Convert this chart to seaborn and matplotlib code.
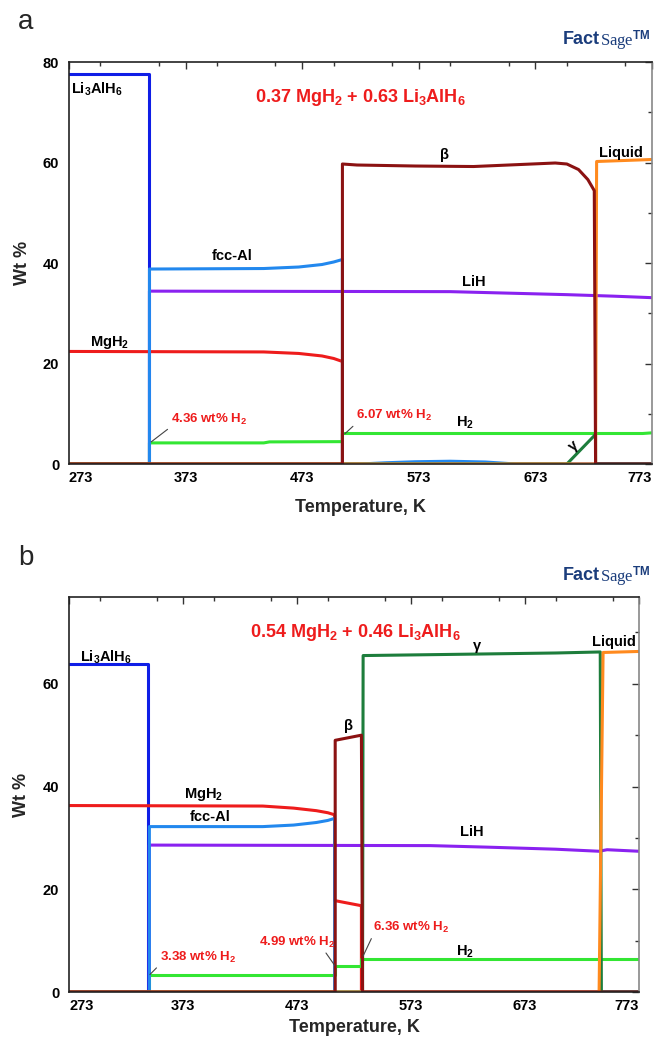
import matplotlib
matplotlib.use("Agg")
import numpy as np
import pandas as pd
import seaborn as sns
import matplotlib.pyplot as plt
from matplotlib import font_manager
from matplotlib.ticker import MultipleLocator

# ---- panel a : 0.37 MgH2 + 0.63 Li3AlH6 ----
a_li3alh6_T = [273, 342, 342, 773]
a_li3alh6 = [77.7, 77.7, 0, 0]
a_lih_T = [273, 342, 342, 600, 650, 700, 740, 773]
a_lih = [0, 0, 34.4, 34.3, 34.0, 33.7, 33.4, 33.1]
a_mgh2_T = [273, 440, 470, 490, 500, 507.5, 507.5, 773]
a_mgh2 = [22.4, 22.3, 22.0, 21.5, 21.0, 20.4, 0, 0]
a_h2_T = [273, 342, 342, 440, 445, 507.5, 507.5, 765, 773]
a_h2 = [0, 0, 4.2, 4.2, 4.4, 4.45, 6.07, 6.07, 6.2]
a_fcc_T = [273, 342, 342, 440, 470, 490, 500, 507.5, 507.5, 523, 545, 570, 600, 630, 656, 773]
a_fcc = [0, 0, 38.8, 38.9, 39.2, 39.7, 40.2, 40.7, 0, 0, 0.25, 0.45, 0.55, 0.4, 0, 0]
a_gamma_T = [273, 700, 724.6, 724.6, 773]
a_gamma = [0, 0, 5.9, 0, 0]
a_liquid_T = [273, 724.6, 725.5, 773]
a_liquid = [0, 0, 60.2, 60.6]
a_beta_T = [273, 507.5, 507.5, 520, 570, 620, 660, 690, 700, 710, 718, 723.5, 724.6, 773]
a_beta = [0, 0, 59.7, 59.5, 59.3, 59.2, 59.6, 59.9, 59.7, 58.6, 56.6, 54.4, 0, 0]

# ---- panel b : 0.54 MgH2 + 0.46 Li3AlH6 ----
b_li3alh6_T = [273, 342, 342, 773]
b_li3alh6 = [63.8, 63.8, 0, 0]
b_lih_T = [273, 343.5, 343.5, 590, 640, 700, 738, 745, 773]
b_lih = [0, 0, 28.6, 28.5, 28.2, 27.8, 27.4, 27.7, 27.4]
b_mgh2_T = [273, 443, 470, 490, 500, 506, 506, 529.5, 529.5, 773]
b_mgh2 = [36.3, 36.2, 35.8, 35.3, 34.9, 34.5, 17.8, 16.8, 0, 0]
b_h2_T = [273, 343.5, 343.5, 506, 506, 529.5, 529.5, 773]
b_h2 = [0, 0, 3.38, 3.38, 4.99, 4.99, 6.36, 6.36]
b_fcc_T = [273, 343.5, 343.5, 443, 470, 490, 500, 506, 506, 773]
b_fcc = [0, 0, 32.2, 32.2, 32.5, 33.0, 33.4, 33.8, 0, 0]
b_gamma_T = [273, 530.5, 531, 600, 700, 739, 740, 773]
b_gamma = [0, 0, 65.5, 65.7, 66.0, 66.2, 0, 0]
b_liquid_T = [273, 738, 741.5, 773]
b_liquid = [0, 0, 66.1, 66.3]
b_beta_T = [273, 506.5, 506.5, 529.5, 530.5, 773]
b_beta = [0, 0, 49.0, 50.0, 0, 0]

phase_order = ["Li3AlH6", "LiH", "MgH2", "H2", "fcc-Al", "gamma", "Liquid", "beta"]
phase_colors = {
    "Li3AlH6": "#0f1ee6",
    "LiH": "#8a22f0",
    "MgH2": "#ee1c1c",
    "H2": "#33e633",
    "fcc-Al": "#2288ee",
    "gamma": "#1d7d3c",
    "Liquid": "#ff8a1e",
    "beta": "#8b1212",
}

panel_a = {
    "Li3AlH6": (a_li3alh6_T, a_li3alh6), "LiH": (a_lih_T, a_lih),
    "MgH2": (a_mgh2_T, a_mgh2), "H2": (a_h2_T, a_h2),
    "fcc-Al": (a_fcc_T, a_fcc), "gamma": (a_gamma_T, a_gamma),
    "Liquid": (a_liquid_T, a_liquid), "beta": (a_beta_T, a_beta),
}
panel_b = {
    "Li3AlH6": (b_li3alh6_T, b_li3alh6), "LiH": (b_lih_T, b_lih),
    "MgH2": (b_mgh2_T, b_mgh2), "H2": (b_h2_T, b_h2),
    "fcc-Al": (b_fcc_T, b_fcc), "gamma": (b_gamma_T, b_gamma),
    "Liquid": (b_liquid_T, b_liquid), "beta": (b_beta_T, b_beta),
}


def long_frame(series):
    parts = []
    for name, (T, w) in series.items():
        parts.append(pd.DataFrame({"T": T, "wt": w, "phase": name}))
    return pd.concat(parts, ignore_index=True)


sns.set_style("white")
names = {f.name for f in font_manager.fontManager.ttflist}
base = "Liberation Sans Narrow" if "Liberation Sans Narrow" in names else "Liberation Sans"
plt.rcParams["font.family"] = [base, "DejaVu Sans"]
plt.rcParams["font.weight"] = "bold"
plt.rcParams["mathtext.fontset"] = "custom"
plt.rcParams["mathtext.rm"] = base + ":bold"
plt.rcParams["mathtext.bf"] = base + ":bold"
plt.rcParams["mathtext.it"] = base + ":bold"
plt.rcParams["mathtext.default"] = "rm"

fig = plt.figure(figsize=(6.65, 10.38), dpi=100)
W, H = 665, 1038
ax_a = fig.add_axes([69 / W, 1 - 464 / H, 583 / W, 402 / H])
ax_b = fig.add_axes([69 / W, 1 - 992 / H, 570 / W, 395 / H])

for ax, data, ytop in [(ax_a, panel_a, 80), (ax_b, panel_b, 76.9)]:
    sns.lineplot(data=long_frame(data), x="T", y="wt", hue="phase",
                 hue_order=phase_order, palette=phase_colors,
                 estimator=None, sort=False, legend=False, lw=2.2, ax=ax)
    ax.set_xlim(273, 773)
    ax.set_ylim(0, ytop)
    ax.set_xticks(np.arange(273, 774, 100))
    ax.xaxis.set_minor_locator(MultipleLocator(50))
    ax.set_yticks(np.arange(0, ytop + 0.1, 20))
    ax.yaxis.set_minor_locator(MultipleLocator(10))
    ax.tick_params(which="both", direction="in", top=True, right=True,
                   labelsize=10.5, width=1, colors="#333333", labelcolor="black")
    ax.tick_params(which="major", length=5)
    ax.tick_params(which="minor", length=3)
    ax.tick_params(axis="x", pad=5)
    ax.tick_params(axis="y", pad=7)
    labels = ax.get_xticklabels()
    labels[0].set_ha("left")
    labels[-1].set_ha("right")
    for lab in ax.get_xticklabels() + ax.get_yticklabels():
        lab.set_fontweight("bold")
    for side in ["left", "bottom", "top"]:
        ax.spines[side].set_color("#222222")
        ax.spines[side].set_linewidth(1.2)
    ax.spines["right"].set_color("#888888")
    ax.spines["right"].set_linewidth(1.2)
    ax.set_xlabel("Temperature, K", fontsize=13, fontweight="bold")
    ax.set_ylabel("Wt %", fontsize=13, fontweight="bold")
    ax.xaxis.label.set_va("center")
    ax.yaxis.label.set_va("center")

ax_a.xaxis.set_label_coords(0.5, -0.108)
ax_a.yaxis.set_label_coords(-0.08, 0.5)
ax_b.xaxis.set_label_coords(0.5, -0.089)
ax_b.yaxis.set_label_coords(-0.084, 0.5)

lab = dict(fontsize=10.5, fontweight="bold", color="black")
red = dict(fontsize=9.5, fontweight="bold", color="#ee1c1c")
lead = dict(arrowstyle="-", color="#444444", lw=0.8, shrinkA=0, shrinkB=0)

# panel a labels
ax_a.text(275, 74.6, r"Li$_3$AlH$_6$", ha="left", va="center", **lab)
ax_a.text(523, 72.9, r"0.37 MgH$_2$ + 0.63 Li$_3$AlH$_6$", ha="center", va="center",
          fontsize=13, fontweight="bold", color="#ee1c1c")
ax_a.text(413, 41.4, "fcc-Al", ha="center", va="center", **lab)
ax_a.text(595, 61.4, "\u03b2", ha="center", va="center", **lab)
ax_a.text(746, 61.9, "Liquid", ha="center", va="center", **lab)
ax_a.text(620, 36.2, "LiH", ha="center", va="center", **lab)
ax_a.text(308, 24.2, r"MgH$_2$", ha="center", va="center", **lab)
ax_a.text(613, 8.1, r"H$_2$", ha="center", va="center", **lab)
ax_a.text(706, 3.5, "\u03b3", ha="center", va="center", rotation=40, **lab)
ax_a.annotate(r"4.36 wt% H$_2$", xy=(343.5, 4.4), xytext=(393, 8.9), ha="center",
              va="center", arrowprops=dict(relpos=(0, 0), **lead), **red)
ax_a.annotate(r"6.07 wt% H$_2$", xy=(509.5, 6.0), xytext=(552, 9.6), ha="center",
              va="center", arrowprops=dict(relpos=(0, 0), **lead), **red)

# panel b labels
ax_b.text(283, 65.1, r"Li$_3$AlH$_6$", ha="left", va="center", **lab)
ax_b.text(524, 69.9, r"0.54 MgH$_2$ + 0.46 Li$_3$AlH$_6$", ha="center", va="center",
          fontsize=13, fontweight="bold", color="#ee1c1c")
ax_b.text(631, 67.4, "\u03b3", ha="center", va="center", **lab)
ax_b.text(751, 68.2, "Liquid", ha="center", va="center", **lab)
ax_b.text(518, 51.8, "\u03b2", ha="center", va="center", **lab)
ax_b.text(391, 38.5, r"MgH$_2$", ha="center", va="center", **lab)
ax_b.text(397, 34.0, "fcc-Al", ha="center", va="center", **lab)
ax_b.text(626, 31.2, "LiH", ha="center", va="center", **lab)
ax_b.text(620, 7.8, r"H$_2$", ha="center", va="center", **lab)
ax_b.annotate(r"3.38 wt% H$_2$", xy=(344, 3.4), xytext=(386, 6.8), ha="center",
              va="center", arrowprops=dict(relpos=(0, 0), **lead), **red)
ax_b.annotate(r"4.99 wt% H$_2$", xy=(506, 5.2), xytext=(473, 9.7), ha="center",
              va="center", arrowprops=dict(relpos=(0.85, 0), **lead), **red)
ax_b.annotate(r"6.36 wt% H$_2$", xy=(531, 7.0), xytext=(573, 12.5), ha="center",
              va="center", arrowprops=dict(relpos=(0, 0), **lead), **red)

# panel letters and FactSage marks
for letter, ycen in [("a", 22), ("b", 558)]:
    fig.text(18 / W, 1 - ycen / H, letter, fontsize=20, fontweight="normal",
             family=["Liberation Sans", "DejaVu Sans"], ha="left", va="center")
for ycen in [40, 576]:
    fig.text(600 / W, 1 - ycen / H, "Fact", fontsize=13, fontweight="heavy",
             color="#1b3d7c", ha="right", va="center")
    fig.text(600 / W, 1 - ycen / H, r"Sage$^{\rm TM}$", fontsize=12,
             fontweight="normal", color="#1b3d7c", ha="left", va="center",
             family=["Liberation Serif", "DejaVu Serif"])

fig.savefig("out.png", dpi=100)
